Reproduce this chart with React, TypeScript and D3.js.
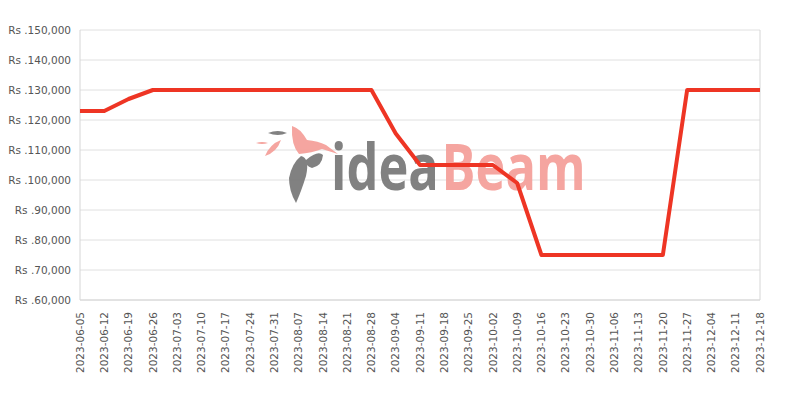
import React from "react";
import * as d3 from "d3";

const dates: string[] = [
  "2023-06-05", "2023-06-12", "2023-06-19", "2023-06-26", "2023-07-03", "2023-07-10",
  "2023-07-17", "2023-07-24", "2023-07-31", "2023-08-07", "2023-08-14", "2023-08-21",
  "2023-08-28", "2023-09-04", "2023-09-11", "2023-09-18", "2023-09-25", "2023-10-02",
  "2023-10-09", "2023-10-16", "2023-10-23", "2023-10-30", "2023-11-06", "2023-11-13",
  "2023-11-20", "2023-11-27", "2023-12-04", "2023-12-11", "2023-12-18",
];
const prices: number[] = [
  123000, 123000, 127000, 130000, 130000, 130000,
  130000, 130000, 130000, 130000, 130000, 130000,
  130000, 115500, 105000, 105000, 105000, 105000,
  99000, 75000, 75000, 75000, 75000, 75000,
  75000, 130000, 130000, 130000, 130000,
];
const yTicks: number[] = [60000, 70000, 80000, 90000, 100000, 110000, 120000, 130000, 140000, 150000];

const W = 800, H = 400;
const M = { left: 80, right: 40, top: 30, bottom: 100 };

export default function App() {
  const parse = d3.timeParse("%Y-%m-%d");
  const xDates = dates.map((d) => parse(d) as Date);
  const x = d3.scaleTime()
    .domain([xDates[0], xDates[xDates.length - 1]])
    .range([M.left, W - M.right]);
  const y = d3.scaleLinear().domain([60000, 150000]).range([H - M.bottom, M.top]);
  const line = d3.line<number>()
    .x((_, i) => x(xDates[i]))
    .y((v) => y(v));
  const fmt = d3.format(",");
  const labelFont = "'DejaVu Sans', sans-serif";

  return (
    <svg width={W} height={H} style={{ position: "absolute", left: 0, top: 0 }}>
      <rect x={0} y={0} width={W} height={H} fill="#fff" />
      {yTicks.map((t) => (
        <g key={t}>
          <line x1={M.left} x2={W - M.right} y1={y(t)} y2={y(t)} stroke="#e0e0e0" strokeWidth={1} />
          <text x={M.left - 9} y={y(t)} dy="0.35em" textAnchor="end" fontFamily={labelFont}
            fontSize={10.5} fill="#555">{"Rs ." + fmt(t)}</text>
        </g>
      ))}
      <line x1={M.left} x2={M.left} y1={M.top} y2={H - M.bottom} stroke="#d6d6d6" />
      <line x1={W - M.right} x2={W - M.right} y1={M.top} y2={H - M.bottom} stroke="#d6d6d6" />
      <line x1={M.left} x2={W - M.right} y1={H - M.bottom} y2={H - M.bottom} stroke="#d6d6d6" />
      {xDates.map((d, i) => (
        <text key={dates[i]} transform={`translate(${x(d)},${H - M.bottom + 12}) rotate(-90)`}
          dy="0.35em" textAnchor="end" fontFamily={labelFont} fontSize={10.5} fill="#555">
          {dates[i]}
        </text>
      ))}
      <g opacity={0.95}>
        <path d="M292,126 Q300,128 307,140 Q318,141 326,145 L338,154 L322,149 Q312,153 299,154 Q291,145 292,126 Z" fill="#f5a19b" />
        <path d="M301,156 Q310,158 306,176 Q301,192 296,203 Q289,191 289,178 Q292,163 301,156 Z" fill="#7b7b7b" />
        <path d="M306,160 Q318,150 323,155 Q322,166 312,168 Q305,166 306,160 Z" fill="#7b7b7b" />
        <path d="M268,133 Q278,129 287,133 Q278,137 268,133 Z" fill="#7b7b7b" />
        <path d="M256,143 Q262,141 268,143 Q262,145 256,143 Z" fill="#f5a19b" />
        <path d="M265,156 Q270,144 281,140 Q277,152 265,156 Z" fill="#f5a19b" />
        <g transform="translate(331,190) scale(0.79,1)">
          <text x={0} y={0} fontFamily="'Open Sans', sans-serif" fontWeight={700} fontSize={64}
            fill="#7b7b7b">idea</text>
          <text x={140} y={0} fontFamily="'Open Sans', sans-serif" fontWeight={700} fontSize={64}
            fill="#f5a19b">Beam</text>
        </g>
      </g>
      <path d={line(prices) || ""} fill="none" stroke="#ee3524" strokeWidth={4} strokeLinejoin="round" />
    </svg>
  );
}
